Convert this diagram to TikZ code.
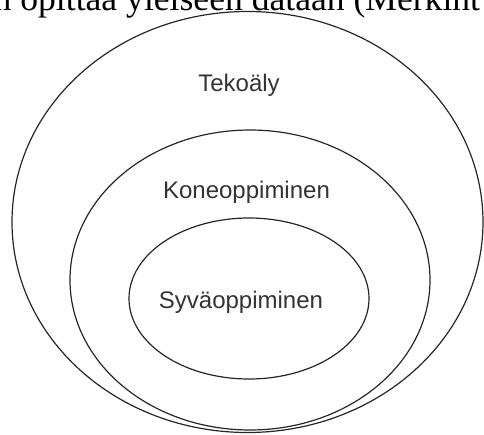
\documentclass[tikz,border=0pt]{standalone}
\usepackage{fontspec}
\setmainfont{Liberation Serif}
\setsansfont{Liberation Sans}
\usepackage{tikz}
\usetikzlibrary{shapes.geometric}

\tikzset{
  joukko/.style={ellipse, draw=black!85, line width=0.6pt, inner sep=0pt, outer sep=0pt},
  nimi/.style={anchor=base, inner sep=0pt, text=black!80, font=\sffamily\fontsize{12}{14}\selectfont}
}

\begin{document}
\begin{tikzpicture}[x=0.5pt, y=-0.5pt]
\clip (0,0) rectangle (484,435);
% leikattu leipateksti ylhaalla
\node[anchor=base west, inner sep=0pt, font=\fontsize{17.8}{20}\selectfont] (teksti) at (-6.7,10) {n opittaa yleiseen dataan (Merkint};

% sisakkaiset joukot
\node[joukko, minimum width=235.5pt, minimum height=210.5pt] (tekoaly) at (247.5,222) {};
\node[joukko, minimum width=180pt, minimum height=150pt] (koneopp) at (250,280) {};
\node[joukko, minimum width=120pt, minimum height=80.5pt] (syvaopp) at (249,298.5) {};

\node[nimi] (tekoaly-nimi) at (239,91) {Tekoäly};
\node[nimi] (koneopp-nimi) at (246.5,198) {Koneoppiminen};
\node[nimi] (syvaopp-nimi) at (241,308) {Syväoppiminen};
\end{tikzpicture}
\end{document}
